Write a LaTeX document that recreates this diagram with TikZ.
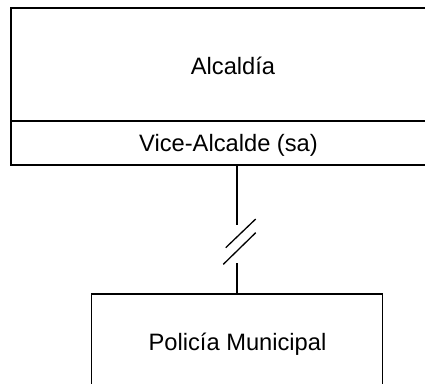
\documentclass[tikz,border=0pt]{standalone}
\usepackage{fontspec}
\setmainfont{Liberation Sans}
\begin{document}
\begin{tikzpicture}[x=1pt,y=-1pt,
  box/.style={draw=black, line width=1.3pt, rectangle, inner sep=0pt},
  lbl/.style={anchor=base, inner sep=0pt, font=\fontsize{23.7}{28}\selectfont},
  conn/.style={draw=black, line width=1.3pt}]
\useasboundingbox (0,0) rectangle (425,383);
\clip (0,0) rectangle (425,383);
% boxes
\node[box, minimum width=444pt, minimum height=113pt] (alc) at (233,64.5) {};
\node[box, minimum width=444pt, minimum height=44pt] (vice) at (233,143) {};
\node[box, minimum width=291pt, minimum height=120pt] (pol) at (237.2,354) {};
% texts
\node[lbl] (talc) at (233,74) {Alcaldía};
\node[lbl] (tvice) at (228.5,151) {Vice-Alcalde (sa)};
\node[lbl] (tpol) at (237.5,350) {Policía Municipal};
% connector with break marks
\coordinate (b1) at (237,225);
\coordinate (b2) at (237,263);
\coordinate (s1a) at (225.7,247.7);
\coordinate (s1b) at (255.7,219);
\coordinate (s2a) at (223.3,264.3);
\coordinate (s2b) at (255.7,232.7);
\draw[conn] (vice.south -| b1) -- (b1);
\draw[conn] (b2) -- (pol.north -| b2);
\draw[conn] (s1a) -- (s1b);
\draw[conn] (s2a) -- (s2b);
\end{tikzpicture}
\end{document}
